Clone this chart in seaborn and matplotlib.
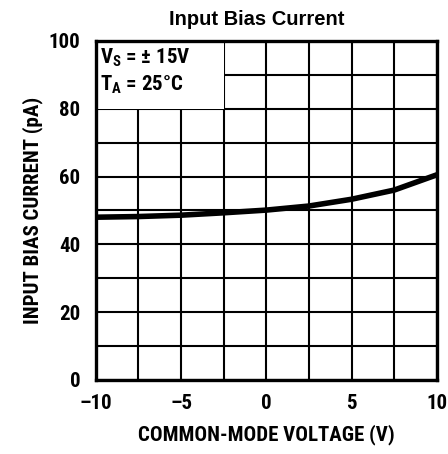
import matplotlib
matplotlib.use("Agg")
import matplotlib.pyplot as plt
from matplotlib.ticker import MultipleLocator, FixedLocator
from matplotlib.patches import Rectangle
import seaborn as sns
import pandas as pd

# Data
voltage = [-10, -7.5, -5, -2.5, 0, 2.5, 5, 7.5, 10]
bias_current = [48.0, 48.2, 48.6, 49.3, 50.1, 51.3, 53.3, 56.0, 60.5]
x_ticks = [-10, -5, 0, 5, 10]
x_tick_labels = ["\u201310", "\u20135", "0", "5", "10"]
y_ticks = [0, 20, 40, 60, 80, 100]
y_tick_labels = ["0", "20", "40", "60", "80", "100"]

sns.set_theme(style="white")
plt.rcParams['font.family'] = ['Roboto Condensed', 'DejaVu Sans']
plt.rcParams['text.color'] = 'black'
plt.rcParams['axes.labelcolor'] = 'black'
plt.rcParams['xtick.color'] = 'black'
plt.rcParams['ytick.color'] = 'black'
plt.rcParams['mathtext.fontset'] = 'custom'
plt.rcParams['mathtext.bf'] = 'Roboto Condensed:black'
plt.rcParams['mathtext.rm'] = 'Roboto Condensed:black'

W = 900

df = pd.DataFrame({"v": voltage, "i": bias_current})

fig = plt.figure(figsize=(4.48, 4.54), dpi=100)
ax = fig.add_axes([0.214, 0.163, 0.761, 0.747])

sns.lineplot(data=df, x="v", y="i", ax=ax, color="black", linewidth=4.0, zorder=3)

ax.set_xlim(-10, 10)
ax.set_ylim(0, 100)
ax.xaxis.set_major_locator(FixedLocator(x_ticks))
ax.yaxis.set_major_locator(FixedLocator(y_ticks))
ax.set_xticklabels(x_tick_labels)
ax.set_yticklabels(y_tick_labels)
ax.xaxis.set_minor_locator(MultipleLocator(2.5))
ax.yaxis.set_minor_locator(MultipleLocator(10))
ax.grid(True, which="both", color="black", linewidth=1.5)
ax.set_axisbelow(True)
ax.tick_params(which="both", length=0, labelsize=15)
ax.tick_params(axis="x", pad=10)
ax.tick_params(axis="y", pad=11)
for lab in ax.get_xticklabels() + ax.get_yticklabels():
    lab.set_fontweight(W)

for s in ax.spines.values():
    s.set_color("black")
    s.set_linewidth(2.4)
    s.set_zorder(5)

ax.add_patch(Rectangle((-10, 80), 7.5, 20, facecolor="white", edgecolor="none", zorder=2))
ax.text(-9.75, 94.9, "V$_{\\mathbf{S}}$ = \u00b1 15V", fontsize=15, fontweight=W,
        va="center", ha="left", zorder=4)
ax.text(-9.75, 87.0, "T$_{\\mathbf{A}}$ = 25\u00b0C", fontsize=15, fontweight=W,
        va="center", ha="left", zorder=4)

ax.set_xlabel("COMMON-MODE VOLTAGE (V)", fontsize=15, fontweight=W, labelpad=8)
ax.set_ylabel("INPUT BIAS CURRENT (pA)", fontsize=15, fontweight=W, labelpad=4)
fig.text(0.573, 0.956, "Input Bias Current", fontsize=14.5, fontweight="bold",
         family="Liberation Sans", ha="center", va="center")

fig.savefig("out.png", dpi=100, facecolor="white")
